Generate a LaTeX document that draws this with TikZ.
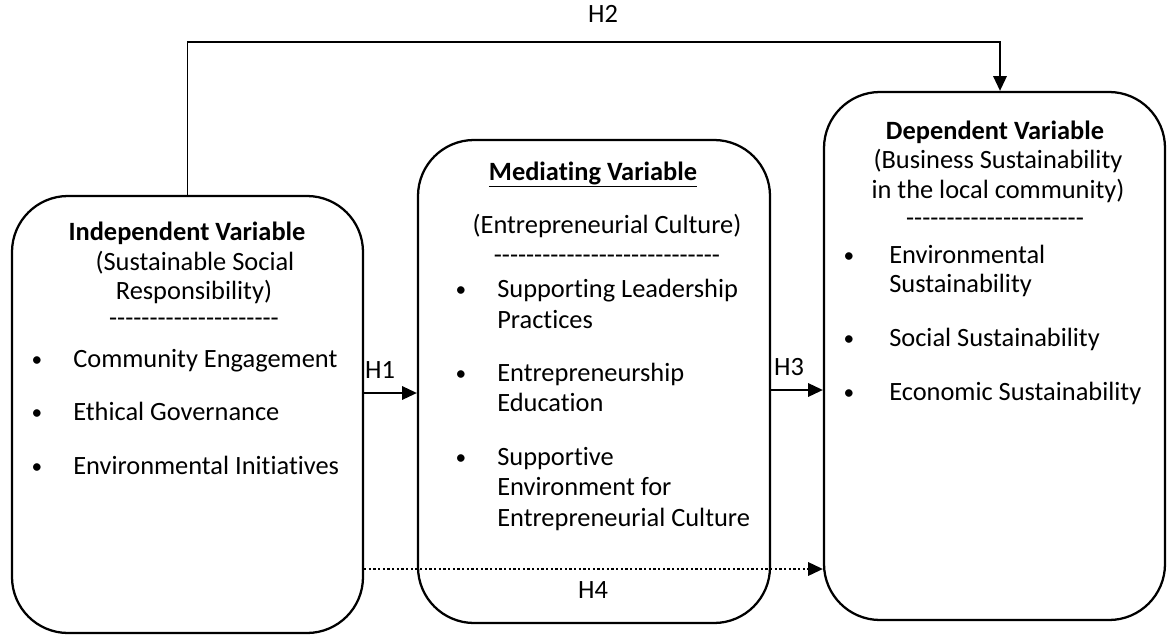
\documentclass[tikz,border=0pt]{standalone}
\usepackage{fontspec}
\setmainfont{Carlito}[Ligatures={TeXOff,CommonOff}]
\usetikzlibrary{arrows.meta}
\begin{document}
\begin{tikzpicture}[x=0.75pt,y=-0.75pt,
  varbox/.style={draw,line width=1.7pt,rounded corners=42pt,inner sep=0pt},
  txt/.style={anchor=base,inner sep=0pt,font=\fontsize{19.8}{22.5}\selectfont},
  ltxt/.style={txt,anchor=base west},
  bul/.style={anchor=base,inner sep=0pt,font=\fontsize{16}{18}\selectfont},
  arr/.style={line width=1.4pt,-{Triangle[length=11pt,width=10pt]}},
  hlab/.style={txt}]
\useasboundingbox (0,0) rectangle (1169,635);
% boxes
\node[varbox,minimum width=263.25pt,minimum height=327.75pt] (L) at (187.5,414.5) {};
\node[varbox,minimum width=264pt,minimum height=362.25pt] (M) at (594,381.5) {};
\node[varbox,minimum width=255.75pt,minimum height=396pt] (R) at (994.5,356) {};
% left text
\node[txt] (l1) at (187,240) {\bfseries Independent Variable};
\node[txt] (l2) at (195,270) {(Sustainable Social};
\node[txt] (l3) at (194,299) {Responsibility)};
\node[txt] (l4) at (194,326) {---------------------};
\node[bul] (lb1) at (37,366) {•};
\node[ltxt] (lt1) at (73,367) {Community Engagement};
\node[bul] (lb2) at (37,419) {•};
\node[ltxt] (lt2) at (73,420) {Ethical Governance};
\node[bul] (lb3) at (37,473) {•};
\node[ltxt] (lt3) at (73,474) {Environmental Initiatives};
% middle text
\node[txt] (m1) at (593,180) {\bfseries\underline{Mediating Variable}};
\node[txt] (m2) at (607,233) {(Entrepreneurial Culture)};
\node[txt] (m3) at (607,263) {----------------------------};
\node[bul] (mb1) at (461,296) {•};
\node[ltxt] (mt1) at (497,297) {Supporting Leadership};
\node[ltxt] (mt1b) at (497,328) {Practices};
\node[bul] (mb2) at (461,380) {•};
\node[ltxt] (mt2) at (497,381) {Entrepreneurship};
\node[ltxt] (mt2b) at (497,411) {Education};
\node[bul] (mb3) at (461,464) {•};
\node[ltxt] (mt3) at (497,465) {Supportive};
\node[ltxt] (mt3b) at (497,495) {Environment for};
\node[ltxt] (mt3c) at (497,526) {Entrepreneurial Culture};
% right text
\node[txt] (r1) at (995,139) {\bfseries Dependent Variable};
\node[txt] (r2) at (998,168) {(Business Sustainability};
\node[txt] (r3) at (998,198) {in the local community)};
\node[txt] (r4) at (995,226) {----------------------};
\node[bul] (rb1) at (849,262) {•};
\node[ltxt] (rt1) at (889,263) {Environmental};
\node[ltxt] (rt1b) at (889,292) {Sustainability};
\node[bul] (rb2) at (849,345) {•};
\node[ltxt] (rt2) at (889,346) {Social Sustainability};
\node[bul] (rb3) at (849,399) {•};
\node[ltxt] (rt3) at (889,400) {Economic Sustainability};
% connectors
\coordinate (h1y) at (0,393);
\coordinate (h3y) at (0,390);
\coordinate (h4y) at (0,569);
\coordinate (h2top) at (0,42);
\coordinate (h2x) at (1000,0);
\draw[arr] (L.east |- h1y) -- (M.west |- h1y);
\draw[arr] (M.east |- h3y) -- (R.west |- h3y);
\draw[arr,line width=1.5pt,dash pattern=on 1.6pt off 1.9pt] (L.east |- h4y) -- (R.west |- h4y);
\draw[arr] (L.north) -- (L.north |- h2top) -- (h2x |- h2top) -- (h2x |- R.north);
\node[hlab] (H1) at (380,378) {H1};
\node[hlab] (H3) at (789,375) {H3};
\node[hlab] (H2) at (603,23) {H2};
\node[hlab] (H4) at (593,598) {H4};
\end{tikzpicture}
\end{document}
